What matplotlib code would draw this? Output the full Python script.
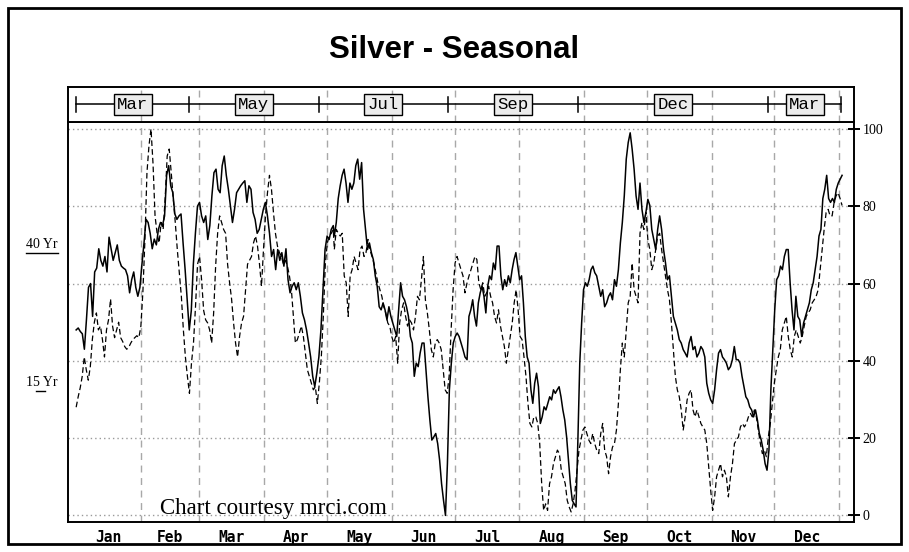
import matplotlib
matplotlib.use("Agg")
import matplotlib.pyplot as plt
import numpy as np
from matplotlib.patches import Rectangle
from matplotlib.lines import Line2D

# ---------------- data ----------------
title = "Silver - Seasonal"
months = ["Jan", "Feb", "Mar", "Apr", "May", "Jun",
          "Jul", "Aug", "Sep", "Oct", "Nov", "Dec"]
month_start_days = [0, 31, 59, 90, 120, 151, 181, 212, 243, 273, 304, 334, 365]
contract_labels = ["Mar", "May", "Jul", "Sep", "Dec", "Mar"]
contract_bounds = [0, 54, 116, 178, 240, 331, 366]
y_ticks = [0, 20, 40, 60, 80, 100]
series_labels = ["40 Yr", "15 Yr"]
credit = "Chart courtesy mrci.com"

# date span (day of year) covered by each block of readings
segment_days = [(0, 60), (61, 123), (123.5, 186), (187, 249), (250, 312), (313, 366.4)]

# 40-year seasonal index (solid)
yr40_seg1 = [48, 48.5, 47.6, 47, 43, 50.6, 59, 60, 51.5, 63, 64, 69, 66, 64.5, 67, 63, 72,
             69, 66, 68, 70, 66, 64.5, 64, 63.6, 62, 57.6, 61, 63, 59, 56.7, 59,
             65, 70.5, 76.6, 75.8, 73, 69, 71.5, 70, 74, 75.8, 75, 77.5, 88, 90.5, 85.3,
             83.5, 78, 76.6, 77.5, 78, 70.5, 63.6, 56, 48, 53, 65, 73, 80, 81, 77.5]
yr40_seg2 = [75.8, 77.5, 71.4, 75, 82.7, 88.7, 89.6, 84.4, 83.5, 90.5, 93, 88, 84.4, 80,
             75.8, 79.2, 83.5, 84.4, 85.3, 86, 86.6, 81, 85.3, 84.4, 78.4, 76.6, 73, 74,
             76.6, 79.2, 81, 77.5, 73, 67, 68.8, 63.6, 68.8, 66, 68, 64.5, 69, 61, 57.6,
             59.3, 60.2, 58.4, 60.2, 56.7, 52.4, 50.6, 48, 44.6, 41, 36, 33.3, 36.8, 41,
             48, 58.4, 68.8, 72.3, 71.4, 74, 75]
yr40_seg3 = [72.3, 75.8, 82, 85.3, 88, 89.6, 86, 81, 86, 84.4, 86, 90.5, 92.2, 87, 91.3,
             79.2, 74, 68.8, 70.5, 68, 66.2, 62, 59.3, 54, 53.2, 55, 53.2, 50.6, 54, 51.5,
             49.8, 48, 46.3, 53.2, 60.2, 56.7, 55.8, 54, 51.5, 46.3, 44.6, 36, 39.4, 38.5,
             42, 44.6, 44.6, 37.7, 30.7, 24.7, 19.5, 20.3, 21.2, 18.6, 14.3, 8.2, 3.9, 0,
             13.4, 32.5, 39.4, 44.6, 46.3, 47.2, 46.3, 44.6, 42.9, 41]
yr40_seg4 = [40.3, 51.5, 53.2, 55.8, 51.5, 49, 55, 57.6, 59.3, 56.7, 52.4, 59.3, 62, 61,
             65.3, 63.6, 69.7, 69.7, 62, 58.4, 61, 59.3, 62, 60.2, 63.6, 66.2, 68, 64.5,
             61, 62, 55, 46.3, 41, 39.4, 32.5, 29, 34.2, 36.8, 33.3, 23.8, 25.5, 28.1,
             27.3, 29, 30.7, 29.9, 32.5, 31.6, 32.5, 33.3, 30.7, 27.3, 24.7, 20.3, 14.3,
             8.2, 3.9, 3, 2.2, 19.5, 39.4, 49.8, 58.4, 60.2, 59.3, 61, 63.6, 64.5, 62.8, 62]
yr40_seg5 = [59.3, 56.7, 58.4, 54, 55, 56.7, 57.6, 55.8, 61, 59.3, 63.6, 70.5, 75.8, 82.7,
             92.2, 96.5, 99, 94.8, 89.6, 82.7, 79.2, 86, 79.2, 75.8, 78.4, 81.8, 80.2, 74,
             71.4, 68.8, 74, 77.5, 74, 68.8, 65.3, 61, 62, 56.7, 51.5, 49.8, 48, 45.5,
             44.6, 42.9, 42, 41, 44.6, 46.3, 42.9, 43.7, 41, 42, 43.7, 42.9, 41, 34.2,
             31.6, 29.9, 29, 32.5, 37.7, 42, 42.9, 41, 40.3, 39.4, 37.7]
yr40_seg6 = [38.5, 40.3, 43.7, 40.3, 40.3, 39.4, 36, 33.3, 30.7, 29.9, 28.1, 27.3, 25.5,
             27.3, 24.7, 21.2, 19.5, 16.9, 13.4, 11.7, 16.9, 32.5, 42.9, 53.2, 61, 62,
             64.5, 63.6, 67, 68.8, 68.8, 60.2, 53.2, 48, 56.7, 51.5, 50.6, 46.3, 49.8,
             51.5, 53.2, 55, 58.4, 60.2, 63.6, 67, 72.3, 74, 82, 84.4, 88, 82, 81, 82, 81,
             84.4, 86, 87, 88]

# 15-year seasonal index (dashed)
yr15_seg1 = [28, 30.7, 33, 36, 41, 37.7, 35, 38.5, 45.5, 50, 52.4, 48, 49, 45.5, 41, 48,
             50.6, 56, 49, 46, 48, 50, 46, 45, 43.7, 43, 43.5, 44.6, 45.5, 46, 46.5, 46,
             49, 58, 71.4, 88.7, 95.7, 100, 91, 77.5, 73, 70.5, 75.8, 74, 82, 93, 94.8,
             88.7, 82, 75.8, 68.8, 62.8, 56.7, 48, 41, 36, 31.6, 39.4, 44.6, 54, 65, 67, 61]
yr15_seg2 = [53, 50.6, 49.8, 48, 44.6, 52.4, 64.5, 73, 77.5, 75.8, 74, 73, 65, 60.2, 56,
             49.8, 44.6, 41, 46.3, 49.8, 51.5, 58.4, 65, 66, 67, 70.5, 72.3, 69.7, 65,
             59.3, 68.8, 77.5, 83.5, 88, 84.4, 78.4, 73, 69.7, 68, 67, 65, 66, 64.5, 62,
             58.4, 51.5, 44.6, 45.5, 47.2, 49, 46.3, 42, 37.7, 36, 34.2, 32.5, 33.3, 29,
             34.2, 41, 51.5, 65, 70.5, 72.3, 73, 74]
yr15_seg3 = [68.8, 74, 73, 72.3, 73, 62, 60.2, 51.5, 62, 63.6, 67, 65.3, 63.6, 68.8, 69.7,
             67, 68, 71.4, 68.8, 67, 65.3, 62.8, 60.2, 58.4, 56.7, 54, 52.4, 49.8, 49,
             46.3, 44.6, 46.3, 39.4, 49.8, 53.2, 55, 51.5, 49, 50.6, 49.8, 48, 51.5, 56.7,
             55.8, 61, 67, 55.8, 52.4, 48, 42.9, 41, 44.6, 45.5, 44.6, 42.9, 37.7, 32.5,
             31.6, 36, 48, 58.4, 65.3, 67, 65.3, 63.6, 62, 57.6]
yr15_seg4 = [60.2, 62, 63.6, 65.3, 67, 66.2, 60.2, 58.4, 60.2, 56.7, 57.6, 59.3, 56.7, 55,
             51.5, 49.8, 53.2, 49, 46.3, 43.7, 39.4, 42.9, 46.3, 49.8, 55, 58.4, 53.2,
             46.3, 45.5, 41, 36, 29, 23.8, 22.9, 25.5, 25.5, 23.8, 18.6, 8.2, 1.3, 3, 1.3,
             8.2, 10, 13.4, 15.2, 16.9, 16, 11.7, 10, 8.2, 3.9, 2.2, 0.9, 3, 6.5, 11.7,
             16.9, 19.5, 22.1, 22.9, 21.2, 19.5, 18.6, 21.2, 18.6, 16.9]
yr15_seg5 = [16, 21.2, 23.8, 16.9, 15.2, 10.8, 15.2, 17.7, 18.6, 22.1, 29, 37.7, 44.6, 41,
             48, 55, 56.7, 65.3, 58.4, 56.7, 55, 73, 75.8, 74, 78.4, 71.4, 68.8, 63.6,
             65.3, 68.8, 72.3, 73, 68.8, 65.3, 62, 58.4, 55.8, 49.8, 42.9, 36, 32.5, 30.7,
             27.3, 22.1, 25.5, 29.9, 31.6, 32.5, 27.3, 25.5, 27.3, 25.5, 23.8, 22.9, 22.1,
             18.6, 12.6, 6.5, 1.3, 4.8, 10, 11.7, 13.4, 10, 11.7, 10, 4.8]
yr15_seg6 = [10, 13.4, 18.6, 19.5, 20.3, 22.9, 23.8, 22.9, 23.8, 25.5, 26.4, 25.5, 27.3,
             25.5, 22.1, 18.6, 16, 16.9, 15.2, 20.3, 23.8, 29, 34.2, 37.7, 41, 42.9, 48,
             49.8, 51.5, 46.3, 42.9, 41, 46.3, 48, 46.3, 44.6, 46.3, 49, 51.5, 52.4, 53.2,
             55, 55.8, 56.7, 58.4, 63.6, 68.8, 74, 78.4, 79.2, 77.5, 77.5, 81, 82.7, 83.5,
             82, 80.2]

yr40_segments = [yr40_seg1, yr40_seg2, yr40_seg3, yr40_seg4, yr40_seg5, yr40_seg6]
yr15_segments = [yr15_seg1, yr15_seg2, yr15_seg3, yr15_seg4, yr15_seg5, yr15_seg6]


def assemble(segments):
    xs, ys = [], []
    for (d0, d1), vals in zip(segment_days, segments):
        xs.append(np.linspace(d0, d1, len(vals)))
        ys.append(np.asarray(vals, dtype=float))
    return np.concatenate(xs), np.concatenate(ys)


x40, y40 = assemble(yr40_segments)
x15, y15 = assemble(yr15_segments)

# ---------------- figure ----------------
W, H = 909, 552
fig = plt.figure(figsize=(W / 100, H / 100), dpi=100)
fig.patch.set_facecolor("white")

XMIN, XMAX = -3.9, 372.1
left, right = 68 / W, 854 / W
main_bottom, main_top = 1 - 522 / H, 1 - 122 / H
bar_top = 1 - 87 / H

ax = fig.add_axes([left, main_bottom, right - left, main_top - main_bottom])
axb = fig.add_axes([left, main_top, right - left, bar_top - main_top])

ax.set_xlim(XMIN, XMAX)
ax.set_ylim(-1.7, 101.8)
axb.set_xlim(XMIN, XMAX)
axb.set_ylim(0, 1)

grid_col = "#9a9a9a"
for v in y_ticks:
    ax.axhline(v, color=grid_col, lw=1.0, linestyle=(0, (1, 2.2)), zorder=1)
for d in month_start_days[1:]:
    ax.axvline(d, color="#a8a8a8", lw=1.0, linestyle=(0, (5, 4)), zorder=1)
    axb.axvline(d, color="#a8a8a8", lw=1.0, linestyle=(0, (5, 4)), zorder=1)

# series
ax.plot(x15, y15, color="black", lw=0.9, linestyle=(0, (4.5, 2.5)), zorder=3)
ax.plot(x40, y40, color="black", lw=1.1, zorder=4)

for a in (ax, axb):
    for s in a.spines.values():
        s.set_color("black")
        s.set_linewidth(1.4)
    a.set_facecolor("white")

ax.yaxis.tick_right()
ax.set_yticks(y_ticks)
ax.set_yticklabels([str(v) for v in y_ticks], family="Liberation Serif", fontsize=10)
ax.tick_params(axis="y", direction="inout", length=8, width=1.4, pad=2)

mid_days = [(month_start_days[i] + month_start_days[i + 1]) / 2 for i in range(12)]
ax.set_xticks(mid_days)
ax.set_xticklabels(months, family="DejaVu Sans Mono", fontweight="bold", fontsize=10.5)
ax.tick_params(axis="x", length=0, pad=6)

axb.set_xticks([])
axb.set_yticks([])

# contract bar
axb.plot([contract_bounds[0], contract_bounds[-1]], [0.51, 0.51], color="black", lw=1.1, zorder=3)
for b in contract_bounds:
    axb.plot([b, b], [0.3, 0.72], color="black", lw=1.1, zorder=3)
for i, lab in enumerate(contract_labels):
    xm = (contract_bounds[i] + contract_bounds[i + 1]) / 2
    axb.text(xm, 0.5, lab, ha="center", va="center", family="Liberation Mono",
             fontsize=12.5, zorder=5,
             bbox=dict(boxstyle="square,pad=0.2", fc="#ececec", ec="black", lw=1.0))

# credit
ax.text(40, 0.4, credit, family="Liberation Serif", fontsize=16.5, ha="left",
        va="baseline", zorder=6)

# title
fig.text(0.5, 1 - 50 / H, title, ha="center", va="center", family="Liberation Sans",
         fontweight="bold", fontsize=22.5)

# left series labels (underlined)
lab_pos = [(42 / W, 1 - 245 / H), (42 / W, 1 - 383 / H)]
renderer = fig.canvas.get_renderer()
for k, (lab, (lx, ly)) in enumerate(zip(series_labels, lab_pos)):
    t = fig.text(lx, ly, lab, ha="center", va="center", family="Liberation Serif",
                 fontsize=10)
    bb = t.get_window_extent(renderer=renderer).transformed(fig.transFigure.inverted())
    if k == 0:
        x0, x1 = bb.x0, bb.x1
    else:
        x0, x1 = bb.x0 + (bb.x1 - bb.x0) * 0.3, bb.x0 + (bb.x1 - bb.x0) * 0.6
    fig.add_artist(Line2D([x0, x1], [bb.y0 - 0.002, bb.y0 - 0.002], color="black",
                          lw=1.0, transform=fig.transFigure))

# outer frame
fig.add_artist(Rectangle((8 / W, 8 / H), 1 - 16 / W, 1 - 16 / H, fill=False,
                         ec="black", lw=2.0, transform=fig.transFigure))

fig.savefig("out.png", dpi=100)
